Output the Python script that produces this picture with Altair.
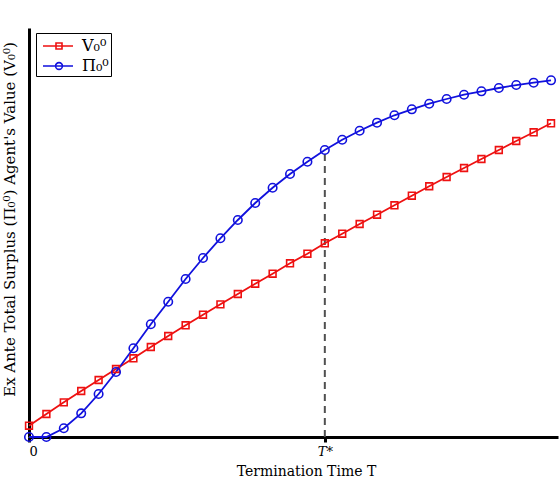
import altair as alt
import pandas as pd

# Termination times and the two curves evaluated at each of them
T = list(range(31))
agent_value = [2.76, 5.62, 8.48, 11.25, 13.94, 16.63, 19.24, 22.0, 24.69, 27.31,
               29.90, 32.44, 34.96, 37.48, 39.93, 42.47, 44.82, 47.36, 49.71, 52.08,
               54.35, 56.65, 59.0, 61.30, 63.57, 65.77, 67.97, 70.17, 72.37, 74.50,
               76.70]
total_surplus = [0.0, 0.0, 2.13, 5.79, 10.51, 15.89, 21.69, 27.56, 33.08, 38.63,
                 43.77, 48.58, 53.06, 57.21, 60.95, 64.30, 67.31, 70.17, 72.69, 74.89,
                 76.85, 78.66, 80.12, 81.49, 82.64, 83.69, 84.52, 85.33, 86.06, 86.63,
                 87.21]
t_star = 17

series_names = ["V₀⁰", "Π₀⁰"]
series_colors = ["#ee1111", "#1111dd"]
marker_shapes = ["square", "circle"]
marker_sizes = [46, 72]
# legend glyphs: a short line segment with the marker drawn on it
legend_glyphs = [
    "M-0.6,0L2.4,0M0.7,-0.3L1.3,-0.3L1.3,0.3L0.7,0.3Z",
    "M-0.6,0L2.4,0M0.66,0A0.34,0.34 0 1,0 1.34,0A0.34,0.34 0 1,0 0.66,0Z",
]

FONT = "DejaVu Serif"

df = pd.DataFrame({
    "T": T + T,
    "value": agent_value + total_surplus,
    "series": [series_names[0]] * len(T) + [series_names[1]] * len(T),
})
marker_df = pd.DataFrame({
    "T": [t_star],
    "value": [0.0],
    "value2": [total_surplus[T.index(t_star)]],
})

x_enc = alt.X(
    "T:Q",
    scale=alt.Scale(domain=[0, 30.4], nice=False, zero=False),
    axis=alt.Axis(
        values=[0, t_star],
        labelExpr="datum.value == 0 ? '0' : 'T*'",
        labelFontStyle={"condition": {"test": "datum.value != 0", "value": "italic"},
                        "value": "normal"},
        grid=False,
        domainWidth=3, domainColor="black",
        tickColor="black", tickWidth=3, tickSize=5,
        labelPadding=3, labelFont=FONT, labelFontSize=13, labelColor="black",
        titleFont=FONT, titleFontSize=14, titleFontWeight="normal",
        titleColor="black", titlePadding=6, titleX=277,
    ),
    title="Termination Time T",
)
y_enc = alt.Y(
    "value:Q",
    scale=alt.Scale(domain=[0, 100], nice=False),
    axis=alt.Axis(
        ticks=False, labels=False, grid=False,
        domainWidth=3, domainColor="black",
        titleFont=FONT, titleFontSize=15, titleFontWeight="normal",
        titleColor="black", titlePadding=12, titleY=191,
    ),
    title="Ex Ante Total Surplus (Π₀⁰) Agent's Value (V₀⁰)",
)
color_scale = alt.Scale(domain=series_names, range=series_colors)

rule = alt.Chart(marker_df).mark_rule(
    color="#505050", strokeDash=[7, 5], strokeWidth=2
).encode(x=x_enc, y=y_enc, y2="value2:Q")

lines = alt.Chart(df).mark_line(strokeWidth=1.8).encode(
    x=x_enc, y=y_enc,
    color=alt.Color("series:N", scale=color_scale, legend=None),
)

points = alt.Chart(df).mark_point(filled=False, strokeWidth=1.6, opacity=1).encode(
    x=x_enc, y=y_enc,
    color=alt.Color("series:N", scale=color_scale, legend=None),
    shape=alt.Shape("series:N", scale=alt.Scale(domain=series_names, range=marker_shapes),
                    legend=None),
    size=alt.Size("series:N", scale=alt.Scale(domain=series_names, range=marker_sizes),
                  legend=None),
)

# legend symbols take each series' colour
symbol_stroke = "datum.value == '%s' ? '%s' : '%s'" % (
    series_names[0], series_colors[0], series_colors[1])
legend_cfg = alt.Legend(
    title=None, orient="none", legendX=7, legendY=5,
    symbolSize=400, symbolStrokeWidth=1.6, symbolOpacity=1,
    symbolFillColor="transparent",
    symbolStrokeColor=alt.ExprRef(expr=symbol_stroke),
    labelFont=FONT, labelFontSize=16, labelColor="black", labelOffset=22,
    rowPadding=1, padding=2,
    strokeColor="black", fillColor="white",
)
legend_layer = alt.Chart(df).mark_point(filled=False, opacity=0).encode(
    x=x_enc, y=y_enc,
    color=alt.Color("series:N", scale=color_scale, legend=None),
    shape=alt.Shape("series:N", scale=alt.Scale(domain=series_names, range=legend_glyphs),
                    legend=legend_cfg),
)

chart = alt.layer(rule, lines, points, legend_layer).resolve_scale(
    shape="independent", size="independent"
).properties(
    width=529, height=409,
    autosize=alt.AutoSizeParams(type="none"),
    padding={"left": 29, "top": 28, "right": 2, "bottom": 47},
    background="white",
).configure_view(stroke=None)

chart.save("out.html", embed_options={"renderer": "svg", "actions": False})
